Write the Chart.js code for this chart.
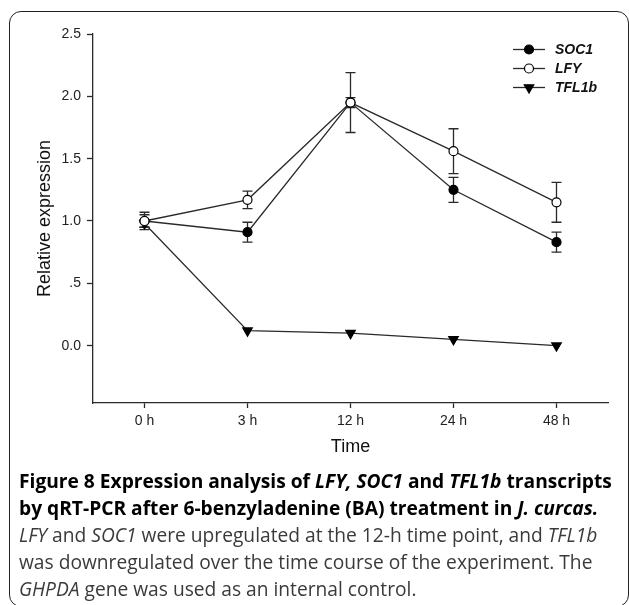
<!DOCTYPE html>
<html>
<head>
<meta charset="utf-8">
<script src="https://cdn.jsdelivr.net/npm/chart.js@4.4.1/dist/chart.umd.min.js"></script>
<style>
  html, body { margin: 0; padding: 0; background: #fff; }
  body { width: 629px; height: 605px; position: relative; overflow: hidden; }
  #chart { position: absolute; left: 0; top: 0; }
  #frame {
    position: absolute; left: 9px; top: 11px; width: 618px; height: 594px;
    border: 1.5px solid #222; border-radius: 12px; pointer-events: none;
  }
  #caption {
    position: absolute; left: 19px; top: 467px; width: 605px;
    font-family: "Open Sans", sans-serif; line-height: 27px; white-space: nowrap;
  }
  #caption .b { font-weight: 700; font-size: 19.2px; color: #000; }
  #caption .n { font-weight: 400; font-size: 19.2px; color: #3a3a3a; }
</style>
</head>
<body>
<canvas id="chart" width="629" height="460"></canvas>
<div id="frame"></div>
<div id="caption">
  <div class="b">Figure 8 Expression analysis of <i>LFY, SOC1</i> and <i>TFL1b</i> transcripts<br>by qRT-PCR after 6-benzyladenine (BA) treatment in <i>J. curcas.</i></div>
  <div class="n"><i>LFY</i> and <i>SOC1</i> were upregulated at the 12-h time point, and <i>TFL1b</i><br>was downregulated over the time course of the experiment. The<br><i>GHPDA</i> gene was used as an internal control.</div>
</div>
<script>
// Sampling times after BA treatment
const categories = ['0 h', '3 h', '12 h', '24 h', '48 h'];

// Relative expression (mean) and standard error per gene
const soc1 = [1.00, 0.91, 1.95, 1.25, 0.83];
const soc1Err = [0.07, 0.08, 0.24, 0.10, 0.08];
const lfy = [1.00, 1.17, 1.95, 1.56, 1.15];
const lfyErr = [0.05, 0.07, 0.04, 0.18, 0.16];
const tfl1b = [0.98, 0.12, 0.10, 0.05, 0.00];
const tfl1bErr = [0.03, 0, 0, 0, 0];

// Y axis ticks
const yTickValues = [0, 0.5, 1.0, 1.5, 2.0, 2.5];
const yTickLabels = ['0.0', '.5', '1.0', '1.5', '2.0', '2.5'];

const FONT = '"Liberation Sans", Arial, sans-serif';
const INK = '#2a2a2a';

// Vertical error bars with caps, drawn under the markers
const errorBars = {
  id: 'errorBars',
  beforeDatasetsDraw(chart) {
    const { ctx, scales: { x, y } } = chart;
    ctx.save();
    ctx.strokeStyle = INK;
    ctx.lineWidth = 1.3;
    chart.data.datasets.forEach((ds) => {
      if (!ds.errors) return;
      ds.data.forEach((v, j) => {
        const e = ds.errors[j];
        if (!e) return;
        const px = x.getPixelForValue(j);
        const yt = y.getPixelForValue(v + e);
        const yb = y.getPixelForValue(v - e);
        const cap = 5;
        ctx.beginPath();
        ctx.moveTo(px, yt); ctx.lineTo(px, yb);
        ctx.moveTo(px - cap, yt); ctx.lineTo(px + cap, yt);
        ctx.moveTo(px - cap, yb); ctx.lineTo(px + cap, yb);
        ctx.stroke();
      });
    });
    ctx.restore();
  }
};

// Legend: line through marker, bold italic gene name
const lineLegend = {
  id: 'lineLegend',
  afterDraw(chart) {
    const { ctx } = chart;
    const x0 = 513, x1 = 545, xm = 529, xt = 555;
    const rows = [49.5, 68.5, 87.5];
    ctx.save();
    chart.data.datasets.forEach((ds, i) => {
      const yy = rows[i];
      ctx.strokeStyle = INK;
      ctx.lineWidth = 1.3;
      ctx.beginPath();
      ctx.moveTo(x0, yy); ctx.lineTo(x1, yy);
      ctx.stroke();
      ctx.fillStyle = ds.pointBackgroundColor;
      ctx.strokeStyle = ds.pointBorderColor;
      ctx.lineWidth = ds.pointBorderWidth;
      Chart.helpers.drawPoint(ctx, {
        pointStyle: ds.pointStyle, rotation: ds.pointRotation || 0,
        radius: ds.pointRadius, borderWidth: ds.pointBorderWidth
      }, xm, yy);
      ctx.fillStyle = '#111';
      ctx.font = 'italic bold 14px ' + FONT;
      ctx.textBaseline = 'middle';
      ctx.textAlign = 'left';
      ctx.fillText(ds.label, xt, yy + 0.5);
    });
    ctx.restore();
  }
};

const common = {
  borderColor: INK, borderWidth: 1.3, tension: 0,
  pointBorderColor: '#000', pointBorderWidth: 1.2, pointHoverRadius: 5
};

new Chart(document.getElementById('chart'), {
  type: 'line',
  data: {
    labels: categories,
    datasets: [
      Object.assign({}, common, {
        label: 'SOC1', data: soc1, errors: soc1Err, order: 1,
        pointStyle: 'circle', pointRadius: 4.5, pointBackgroundColor: '#000'
      }),
      Object.assign({}, common, {
        label: 'LFY', data: lfy, errors: lfyErr, order: 0,
        pointStyle: 'circle', pointRadius: 4.5, pointBackgroundColor: '#fff'
      }),
      Object.assign({}, common, {
        label: 'TFL1b', data: tfl1b, errors: tfl1bErr, order: 2,
        pointStyle: 'triangle', pointRotation: 180, pointRadius: 5.5, pointBackgroundColor: '#000'
      })
    ]
  },
  options: {
    responsive: false,
    animation: false,
    devicePixelRatio: 1,
    layout: { padding: { top: 34, right: 21, left: 0, bottom: 0 } },
    plugins: { legend: { display: false }, tooltip: { enabled: false } },
    scales: {
      x: {
        type: 'category',
        offset: true,
        grid: { display: true, drawOnChartArea: false, offset: false, tickLength: 5, tickColor: INK, tickWidth: 1.3 },
        border: { display: true, color: INK, width: 1.3 },
        ticks: { font: { family: FONT, size: 14 }, color: '#222', padding: 5, maxRotation: 0 },
        title: { display: true, text: 'Time', font: { family: FONT, size: 18 }, color: '#111', padding: { top: 0, bottom: 2 } },
        afterFit(s) { s.height = 57; }
      },
      y: {
        min: -0.46, max: 2.5,
        afterBuildTicks(s) { s.ticks = yTickValues.map(v => ({ value: v })); },
        grid: { display: true, drawOnChartArea: false, tickLength: 6, tickColor: INK, tickWidth: 1.3 },
        border: { display: true, color: INK, width: 1.3 },
        ticks: { font: { family: FONT, size: 14 }, color: '#222', padding: 6,
                 callback: (v, i) => yTickLabels[i] },
        title: { display: true, text: 'Relative expression', font: { family: FONT, size: 18 }, color: '#111', padding: { top: 34, bottom: 0 } },
        afterFit(s) { s.width = 93; }
      }
    }
  },
  plugins: [errorBars, lineLegend]
});
</script>
</body>
</html>
